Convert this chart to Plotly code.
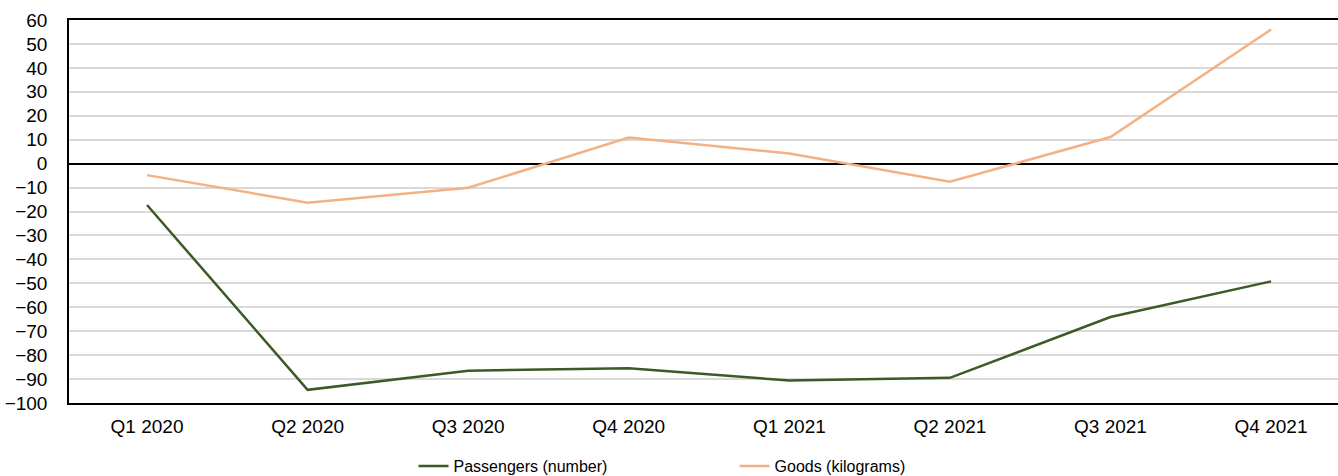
import plotly.graph_objects as go

quarters = ["Q1 2020", "Q2 2020", "Q3 2020", "Q4 2020", "Q1 2021", "Q2 2021", "Q3 2021", "Q4 2021"]
passengers = [-17.3, -94.5, -86.5, -85.5, -90.6, -89.5, -64.1, -49.2]
goods = [-4.8, -16.3, -10.1, 10.9, 4.2, -7.6, 11.1, 56.0]
y_ticks = list(range(-100, 61, 10))

fig = go.Figure()
fig.add_trace(go.Scatter(x=quarters, y=passengers, mode="lines", name="Passengers (number)",
                         line=dict(color="#3b5a25", width=2.5)))
fig.add_trace(go.Scatter(x=quarters, y=goods, mode="lines", name="Goods (kilograms)",
                         line=dict(color="#f4b183", width=2.5)))

fig.update_layout(
    width=1338, height=476,
    margin=dict(l=69, r=0, t=20, b=73, autoexpand=False),
    plot_bgcolor="white", paper_bgcolor="white",
    font=dict(family="Liberation Sans", size=19, color="#000000"),
    showlegend=True,
    legend=dict(orientation="h", x=0.2715, xanchor="left", xref="paper",
                y=0.021, yanchor="middle", yref="container",
                font=dict(family="Liberation Sans", size=16),
                entrywidth=276, entrywidthmode="pixels", itemwidth=30),
)
fig.update_xaxes(type="category", range=[-0.486, 7.417], showgrid=False,
                 showline=True, linecolor="#000000", linewidth=1.5, mirror=True,
                 ticks="", ticklabelstandoff=5, tickfont=dict(family="Liberation Sans", size=19))
fig.update_yaxes(range=[-100, 60], tickvals=y_ticks, showgrid=True, gridcolor="#d9d9d9", gridwidth=1.5,
                 zeroline=True, zerolinecolor="#000000", zerolinewidth=1.5,
                 showline=True, linecolor="#000000", linewidth=1.5, mirror=False,
                 ticks="", ticklabelstandoff=16,
                 tickfont=dict(family="Liberation Sans", size=19))

fig.write_html("out.html")
